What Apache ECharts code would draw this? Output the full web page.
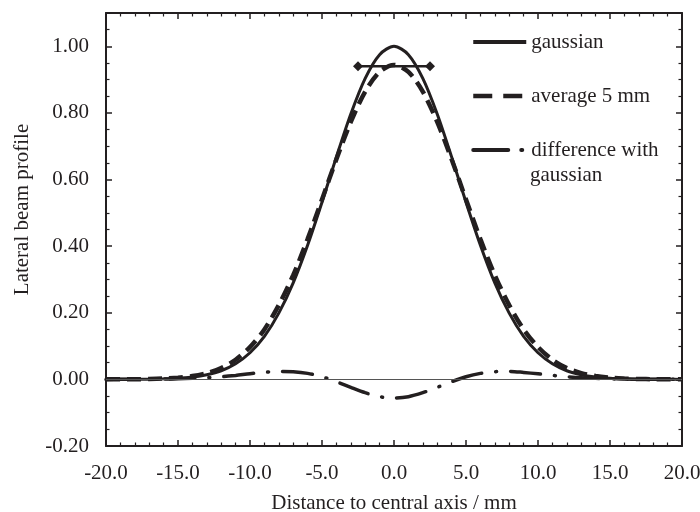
<!DOCTYPE html>
<html>
<head>
<meta charset="utf-8">
<script src="https://cdn.jsdelivr.net/npm/echarts@6/dist/echarts.min.js"></script>
<style>html,body{margin:0;padding:0;background:#fff}#c{width:700px;height:512px}</style>
</head>
<body>
<div id="c"></div>
<script>
var xs = [-20,-19,-18,-17,-16,-15,-14,-13,-12,-11,-10,-9,-8,-7,-6,-5,-4,-3,-2,-1,0,1,2,3,4,5,6,7,8,9,10,11,12,13,14,15,16,17,18,19,20];
var gaussian = [0.0000,0.0001,0.0003,0.0007,0.0016,0.0034,0.0071,0.014,0.026,0.047,0.080,0.129,0.199,0.290,0.403,0.532,0.668,0.797,0.904,0.975,1.000,0.975,0.904,0.797,0.668,0.532,0.403,0.290,0.199,0.129,0.080,0.047,0.026,0.014,0.0071,0.0034,0.0016,0.0007,0.0003,0.0001,0.0000];
var average5mm = [0.0001,0.0002,0.0005,0.0012,0.0026,0.005,0.010,0.019,0.034,0.059,0.097,0.150,0.223,0.313,0.421,0.540,0.661,0.773,0.864,0.923,0.944,0.923,0.864,0.773,0.661,0.540,0.421,0.313,0.223,0.150,0.097,0.059,0.034,0.019,0.010,0.005,0.0026,0.0012,0.0005,0.0002,0.0001];
var difference = [0,0.0001,0.0002,0.0005,0.001,0.0018,0.0032,0.005,0.008,0.012,0.017,0.021,0.024,0.023,0.018,0.008,-0.007,-0.024,-0.040,-0.052,-0.056,-0.052,-0.040,-0.024,-0.007,0.008,0.018,0.023,0.024,0.021,0.017,0.012,0.008,0.005,0.0032,0.0018,0.001,0.0005,0.0002,0.0001,0];
var windowX = [-2.5, 2.5];
var windowY = [0.94, 0.94];
var seriesNames = ['gaussian', 'average 5 mm', 'difference with'];
var legendSecondLine = 'gaussian';
var xTitle = 'Distance to central axis / mm';
var yTitle = 'Lateral beam profile';

function pairs(x, y) { return x.map(function (v, i) { return [v, y[i]]; }); }

var ink = '#231f20';
var font = 'Liberation Serif';
var fs = 21;
var chart = echarts.init(document.getElementById('c'));
var axisCommon = {
  axisLine: { show: true, onZero: false, lineStyle: { color: ink, width: 2 } },
  axisTick: { show: true, inside: true, length: 6, lineStyle: { color: ink, width: 1.5 } },
  minorTick: { show: true, length: 3.5, lineStyle: { color: ink, width: 1.2 } },
  splitLine: { show: false }
};
chart.setOption({
  animation: false,
  backgroundColor: '#fff',
  grid: { left: 106, right: 18, top: 13, bottom: 66, containLabel: false, outerBoundsMode: 'none' },
  textStyle: { fontFamily: font },
  legend: {
    data: [
      { name: seriesNames[0], lineStyle: { type: 'solid', width: 4 } },
      { name: seriesNames[1], lineStyle: { type: [19, 11], width: 4.5 } },
      { name: seriesNames[2], lineStyle: { type: [35, 13, 1, 20], width: 4, cap: 'round' } }
    ],
    orient: 'vertical',
    left: 471,
    top: 31,
    padding: 0,
    itemWidth: 53,
    itemHeight: 14,
    itemGap: 32,
    itemStyle: { opacity: 0 },
    textStyle: { fontFamily: font, fontSize: fs, color: ink, lineHeight: 22 }
  },
  graphic: [{
    type: 'text', left: 530, top: 165, silent: true,
    style: { text: legendSecondLine, fontFamily: font, fontSize: fs, fill: ink }
  }],
  xAxis: [
    Object.assign({}, axisCommon, {
      type: 'value', min: -20, max: 20, interval: 5,
      minorTick: Object.assign({}, axisCommon.minorTick, { splitNumber: 5 }),
      name: xTitle, nameLocation: 'middle', nameGap: 47,
      nameTextStyle: { fontFamily: font, fontSize: fs, color: ink },
      axisLabel: { fontFamily: font, fontSize: fs, color: ink, margin: 17, formatter: function (v) { return v.toFixed(1); } }
    }),
    Object.assign({}, axisCommon, {
      type: 'value', min: -20, max: 20, interval: 5, position: 'top',
      minorTick: Object.assign({}, axisCommon.minorTick, { splitNumber: 5 }),
      axisLabel: { show: false }
    })
  ],
  yAxis: [
    Object.assign({}, axisCommon, {
      type: 'value', min: -0.2, max: 1.1, interval: 0.2,
      minorTick: Object.assign({}, axisCommon.minorTick, { splitNumber: 4 }),
      name: yTitle, nameLocation: 'middle', nameGap: 73,
      nameTextStyle: { fontFamily: font, fontSize: fs, color: ink, padding: [0, 0, 0, 40] },
      axisLabel: { fontFamily: font, fontSize: fs, color: ink, margin: 17, showMaxLabel: false, formatter: function (v) { return v.toFixed(2); } }
    }),
    Object.assign({}, axisCommon, {
      type: 'value', min: -0.2, max: 1.1, interval: 0.2, position: 'right',
      minorTick: Object.assign({}, axisCommon.minorTick, { splitNumber: 4 }),
      axisLabel: { show: false }
    })
  ],
  series: [
    {
      name: seriesNames[0], type: 'line', data: pairs(xs, gaussian), smooth: 0.3,
      symbol: 'none', color: ink, lineStyle: { color: ink, width: 3 },
      markLine: {
        silent: true, symbol: 'none', label: { show: false },
        lineStyle: { color: '#555', width: 1, type: 'solid' },
        data: [{ yAxis: 0 }]
      },
      z: 2
    },
    {
      name: seriesNames[1], type: 'line', data: pairs(xs, average5mm), smooth: 0.3,
      symbol: 'none', color: ink, lineStyle: { color: ink, width: 4.5, type: [14, 7] }, z: 3
    },
    {
      name: seriesNames[2], type: 'line', data: pairs(xs, difference), smooth: 0.3,
      symbol: 'none', color: ink, lineStyle: { color: ink, width: 3.5, type: [30, 14, 1, 14], cap: 'round' }, z: 3
    },
    {
      name: 'window', type: 'line', data: pairs(windowX, windowY),
      symbol: 'diamond', symbolSize: 10, color: ink,
      itemStyle: { color: ink }, lineStyle: { color: ink, width: 2.5 }, z: 4
    }
  ]
});
</script>
</body>
</html>
